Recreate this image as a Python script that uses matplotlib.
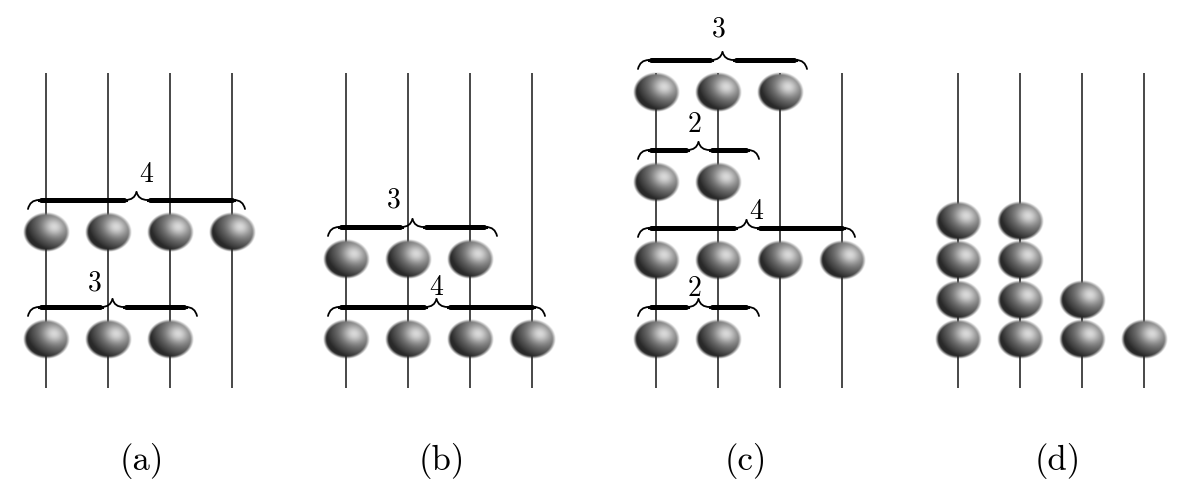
import numpy as np
import matplotlib
matplotlib.use("Agg")
import matplotlib.pyplot as plt
from matplotlib.path import Path
from matplotlib.patches import PathPatch

# bead counts per row, top row first (every row is left aligned on the rods)
rows_a = [4, 3]
rows_b = [3, 4]
rows_c = [3, 2, 4, 2]
rows_d = [2, 2, 3, 4]
panel_rows = [rows_a, rows_b, rows_c, rows_d]
panel_names = ["(a)", "(b)", "(c)", "(d)"]
has_braces = [True, True, True, False]

# layout (pixels)
rod_x0 = [46, 346, 656, 958]
rod_gap = 62
rod_top, rod_bot = 73, 388
row_y = {0: [232, 339], 1: [259, 339], 2: [92, 182, 260, 339], 3: [221, 260, 300, 339]}
label_dx = {0: [10, -18], 1: [-19, 0], 2: [-4, -4, 10, -4]}
label_dy = {0: [-25, -24], 1: [-27, -19], 2: [-31, -25, -16, -18]}
name_x = [142, 442, 746, 1058]
bead_w, bead_h = 47, 40


def sphere_img(n=96):
    u, v = np.meshgrid(np.linspace(-1, 1, n), np.linspace(-1, 1, n))
    r = np.sqrt(u**2 + v**2)
    z = np.sqrt(np.clip(1 - r**2, 0, 1))
    L = np.array([0.55, 0.45, 0.70])
    L = L / np.linalg.norm(L)
    diff = np.clip(u * L[0] - v * L[1] + z * L[2], 0, 1)
    H = L + np.array([0, 0, 1.0])
    H = H / np.linalg.norm(H)
    spec = np.clip(u * H[0] - v * H[1] + z * H[2], 0, 1) ** 10
    g = 0.16 + 0.42 * diff + 0.30 * spec
    g = np.clip(g, 0, 1)
    a = np.clip((1.0 - r) * 7, 0, 1)
    img = np.dstack([g, g, g, a])
    return img


SPH = sphere_img()


def bead(ax, x, y):
    ax.imshow(SPH, extent=(x - bead_w / 2, x + bead_w / 2, y + bead_h / 2, y - bead_h / 2),
              interpolation="bilinear", zorder=3)


def brace(ax, x0, x1, y, d=9, q=11, tip=8):
    xc = (x0 + x1) / 2
    thin = dict(color="black", lw=1.3, zorder=4, capstyle="round")
    for a, b, s in [(x0, xc, 1), (x1, xc, -1)]:
        # end curl
        p = Path([(a, y + d), (a + s * 2, y), (a + s * q, y)],
                 [Path.MOVETO, Path.CURVE3, Path.CURVE3])
        ax.add_patch(PathPatch(p, fill=False, **thin))
        # cusp
        p = Path([(b - s * q, y), (b - s * 2, y), (b, y - tip)],
                 [Path.MOVETO, Path.CURVE3, Path.CURVE3])
        ax.add_patch(PathPatch(p, fill=False, **thin))
        lo, hi = sorted([a + s * q, b - s * q])
        ax.plot([lo, hi], [y, y], color="black", lw=2.2, zorder=4)
        ax.plot([lo + 2, hi - 2], [y, y], color="black", lw=3.6, zorder=4,
                solid_capstyle="round")
    return xc


fig = plt.figure(figsize=(11.99, 4.98), dpi=100)
ax = fig.add_axes([0, 0, 1, 1])

for p, rows in enumerate(panel_rows):
    xs = [rod_x0[p] + i * rod_gap for i in range(4)]
    ax.vlines(xs, rod_top, rod_bot, color="#474747", lw=1.4, zorder=1)
    for k, n in enumerate(rows):
        y = row_y[p][k]
        for i in range(n):
            bead(ax, xs[i], y)
        if has_braces[p]:
            by = y - 32
            x0 = xs[0] - 18
            x1 = x0 + 48 * n + 25
            xc = brace(ax, x0, x1, by)
            ax.text(xc + label_dx[p][k], by + label_dy[p][k], str(n),
                    fontfamily="cmr10", fontsize=20, ha="center", va="center", zorder=5)
    ax.text(name_x[p], 461, panel_names[p], fontfamily="cmr10", fontsize=25,
            ha="center", va="center")

ax.set_xlim(0, 1199)
ax.set_ylim(498, 0)
ax.set_aspect("auto")
ax.axis("off")
fig.savefig("out.png", dpi=100, facecolor="white")
